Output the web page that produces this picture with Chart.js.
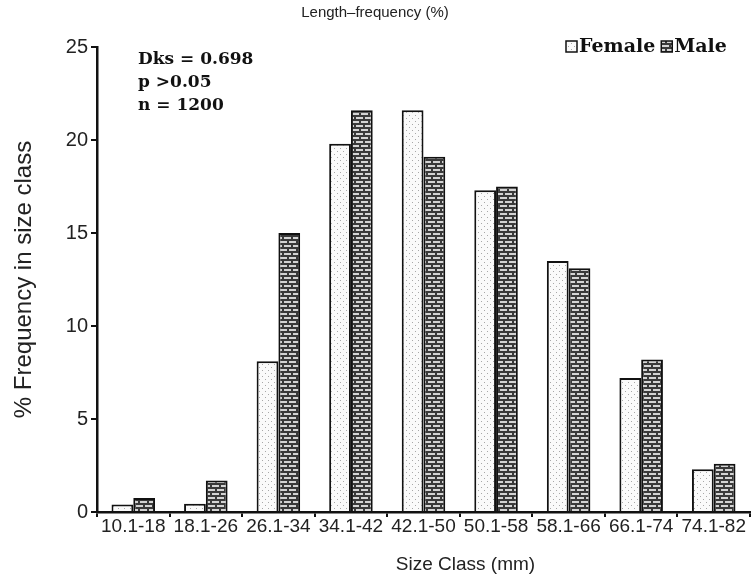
<!DOCTYPE html>
<html>
<head>
<meta charset="utf-8">
<script src="https://cdn.jsdelivr.net/npm/chart.js@4"></script>
<style>
  html, body { margin: 0; padding: 0; background: #fff; }
  #box { width: 751px; height: 583px; }
</style>
</head>
<body>
<div id="box"><canvas id="chart"></canvas></div>
<script>
const klassen = ["10.1-18", "18.1-26", "26.1-34", "34.1-42", "42.1-50", "50.1-58", "58.1-66", "66.1-74", "74.1-82"];
const female = [0.4, 0.45, 8.1, 19.8, 21.6, 17.3, 13.5, 7.2, 2.3];
const male = [0.75, 1.7, 15.0, 21.6, 19.1, 17.5, 13.1, 8.2, 2.6];
const yTicks = [0, 5, 10, 15, 20, 25];
const statsText = ["Dks = 0.698", "p >0.05", "n = 1200"];

// Punktmuster fuer Female
function punkte() {
    const c = document.createElement("canvas");
    c.width = 6; c.height = 6;
    const g = c.getContext("2d");
    g.fillStyle = "#fafafa";
    g.fillRect(0, 0, 6, 6);
    g.fillStyle = "#a8a8a8";
    g.fillRect(1, 1, 1, 1);
    g.fillRect(4, 4, 1, 1);
    return g.createPattern(c, "repeat");
}

// Ziegelmuster fuer Male
function ziegel() {
    const c = document.createElement("canvas");
    c.width = 9; c.height = 8;
    const g = c.getContext("2d");
    g.fillStyle = "#3a3a3a";
    g.fillRect(0, 0, 9, 8);
    g.fillStyle = "#d4d4d4";
    g.fillRect(1, 1, 7, 2);
    g.fillRect(0, 5, 3, 2);
    g.fillRect(5, 5, 4, 2);
    return g.createPattern(c, "repeat");
}

const fuellung = [punkte(), ziegel()];

const textPlugin = {
    id: "texte",
    afterDraw(chart) {
        const ctx = chart.ctx;
        const a = chart.chartArea;
        ctx.save();
        ctx.fillStyle = "#111";
        ctx.font = "bold 17px 'DejaVu Serif'";
        ctx.textBaseline = "middle";
        ctx.textAlign = "left";
        statsText.forEach((t, i) => ctx.fillText(t, a.left + 41, 60 + i * 23));

        // Legende oben rechts
        let x = 566;
        chart.data.datasets.forEach((ds, i) => {
            ctx.fillStyle = fuellung[i];
            ctx.fillRect(x, 41, 11, 11);
            ctx.strokeStyle = "#111";
            ctx.lineWidth = 1.5;
            ctx.strokeRect(x, 41, 11, 11);
            ctx.fillStyle = "#111";
            ctx.font = "bold 19px 'DejaVu Serif'";
            ctx.fillText(ds.label, x + 13, 47);
            x += 13 + ctx.measureText(ds.label).width + 6;
        });

        ctx.font = "19px 'Liberation Sans', Arial, sans-serif";
        ctx.textAlign = "center";
        ctx.fillStyle = "#222";
        ctx.fillText("Size Class (mm)", (a.left + a.right) / 2 + 42, 565);
        ctx.restore();
    }
};

const ctx = document.getElementById("chart").getContext("2d");
const myChart = new Chart(ctx, {
    type: "bar",
    data: {
        labels: klassen,
        datasets: [{
            label: "Female",
            data: female,
            backgroundColor: fuellung[0],
            borderColor: "#111",
            borderWidth: 2,
        }, {
            label: "Male",
            data: male,
            backgroundColor: fuellung[1],
            borderColor: "#111",
            borderWidth: 2,
        }],
    },
    options: {
        responsive: true,
        maintainAspectRatio: false,
        animation: false,
        categoryPercentage: 0.6,
        barPercentage: 1.0,
        layout: { padding: { left: 0, right: 1, top: 0, bottom: 0 } },
        plugins: {
            title: {
                display: true,
                text: "Length\u2013frequency (%)",
                color: "#222",
                font: { family: "'Liberation Sans', Arial, sans-serif", size: 15, weight: "normal" },
                padding: { top: 4, bottom: 25 },
            },
            legend: { display: false },
            tooltip: { enabled: false },
        },
        scales: {
            x: {
                grid: { drawOnChartArea: false, drawTicks: true, tickLength: 5, color: "#111", lineWidth: 2 },
                border: { color: "#111", width: 2.5 },
                ticks: {
                    color: "#222",
                    padding: -2,
                    maxRotation: 0,
                    font: { family: "'Liberation Sans', Arial, sans-serif", size: 19 },
                },
                afterFit(scale) { scale.height = 71; },
            },
            y: {
                min: 0,
                max: 25,
                afterBuildTicks(scale) { scale.ticks = yTicks.map((v) => ({ value: v })); },
                grid: { drawOnChartArea: false, drawTicks: true, tickLength: 6, color: "#111", lineWidth: 2 },
                border: { color: "#111", width: 2.5 },
                ticks: {
                    color: "#222",
                    padding: 3,
                    font: { family: "'Liberation Sans', Arial, sans-serif", size: 20 },
                },
                title: {
                    display: true,
                    text: "% Frequency in size class",
                    color: "#222",
                    font: { family: "'Liberation Sans', Arial, sans-serif", size: 24 },
                    padding: { top: 10, bottom: 0 },
                },
                afterFit(scale) { scale.width = 97; },
            },
        },
    },
    plugins: [textPlugin],
});
</script>
</body>
</html>
